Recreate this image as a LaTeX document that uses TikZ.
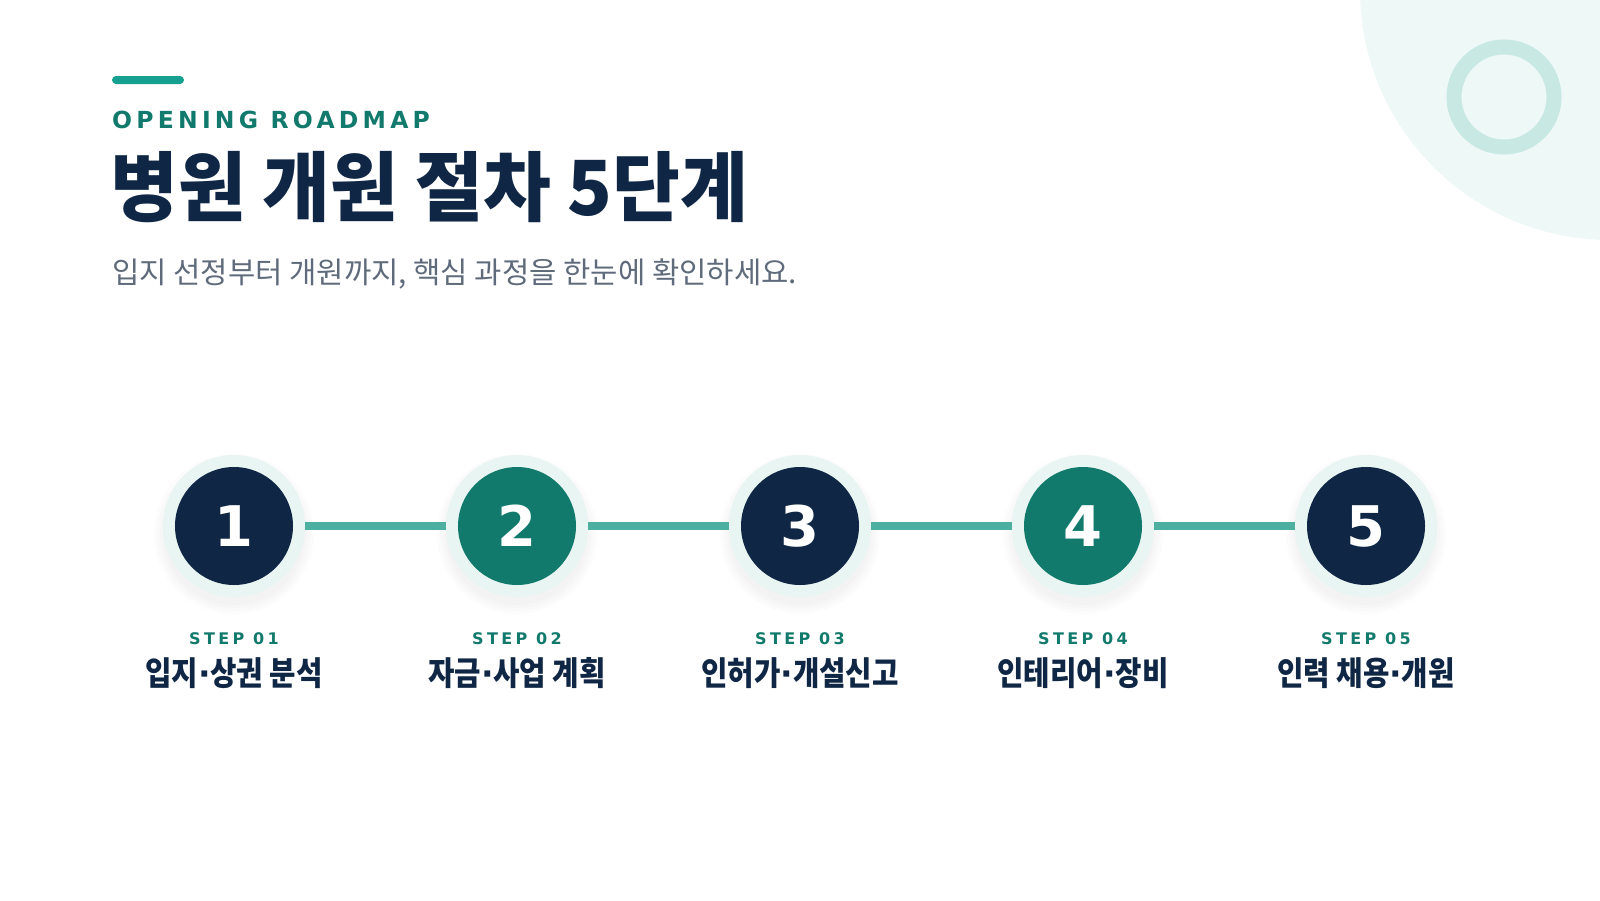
\documentclass[tikz,border=0pt]{standalone}
\usepackage{fontspec}
\usepackage{xcolor}
\usetikzlibrary{positioning}
\setmainfont{DejaVu Sans}
\newfontfamily\krfont{Noto Sans CJK KR}
\newfontfamily\krhead[FakeStretch=0.97]{Noto Sans CJK KR}
\newfontfamily\krname[FakeStretch=0.87]{Noto Sans CJK KR}
\newfontfamily\capsfont[LetterSpace=18]{DejaVu Sans}
\newfontfamily\tagfont[LetterSpace=21]{DejaVu Sans}
\newcommand\mdot{{\normalfont\bfseries ·}}
\definecolor{navy}{HTML}{0F2744}
\definecolor{teal}{HTML}{127A6C}
\definecolor{accent}{HTML}{16A08F}
\definecolor{linkc}{HTML}{4CAF9F}
\definecolor{haloc}{HTML}{E8F5F2}
\definecolor{disc}{HTML}{EEF8F6}
\definecolor{ringc}{HTML}{C8E9E3}
\definecolor{muted}{HTML}{5F6B7A}
\tikzset{
  kicker/.style={text=teal, font=\capsfont\bfseries\fontsize{23.5}{28}\selectfont, inner sep=0pt},
  title/.style={text=navy, font=\krhead\bfseries\fontsize{76}{90}\selectfont, inner sep=0pt},
  lead/.style={text=muted, font=\krfont\fontsize{29.7}{36}\selectfont, inner sep=0pt},
  halo/.style={circle, fill=haloc, minimum size=142pt, inner sep=0pt},
  dot/.style={circle, minimum size=118pt, inner sep=0pt, text=white,
    font=\bfseries\fontsize{56}{60}\selectfont},
  link/.style={line width=7.5pt, draw=linkc},
  steptag/.style={text=teal, font=\tagfont\bfseries\fontsize{16}{20}\selectfont, inner sep=0pt},
  stepname/.style={text=navy, font=\krname\bfseries\fontsize{33}{38}\selectfont, inner sep=0pt},
}
\begin{document}
\begin{tikzpicture}[x=1pt, y=-1pt]
  \useasboundingbox (0,0) rectangle (1600,900);
  % corner decoration
  \begin{scope}
    \clip (0,0) rectangle (1600,900);
    \fill[disc] (1610,-10) circle[radius=250pt];
  \end{scope}
  \draw[ringc, line width=15pt] (1504,97) circle[radius=50pt];

  % heading
  \fill[accent, rounded corners=4pt] (112,76) rectangle (184,84);
  \node[kicker, anchor=base west] (kick) at (112,128) {OPENING ROADMAP};
  \node[title, anchor=base west] (head) at (110,215) {병원 개원 절차 5단계};
  \node[lead, anchor=base west] (lead) at (112,283) {입지 선정부터 개원까지, 핵심 과정을 한눈에 확인하세요.};

  % steps
  \foreach \name [count=\i] in {입지\mdot 상권 분석, 자금\mdot 사업 계획, 인허가\mdot 개설신고, 인테리어\mdot 장비, 인력 채용\mdot 개원}{
    \pgfmathsetmacro\x{234+283*(\i-1)}
    \ifodd\i\relax \def\c{navy}\else \def\c{teal}\fi
    \foreach \r in {80,77,74,71}
      \fill[black, opacity=0.012] (\x,534) circle[radius=\r pt];
    \node[halo] (h\i) at (\x,526) {};
    \node[dot, fill=\c] (s\i) at (\x,526) {\i};
    \node[steptag, anchor=base] (t\i) at (\x,644) {STEP 0\i};
    \node[stepname, anchor=base] (n\i) at (\x,685) {\name};
  }
  \foreach \a/\b in {1/2,2/3,3/4,4/5}
    \draw[link] (h\a) -- (h\b);
\end{tikzpicture}
\end{document}
